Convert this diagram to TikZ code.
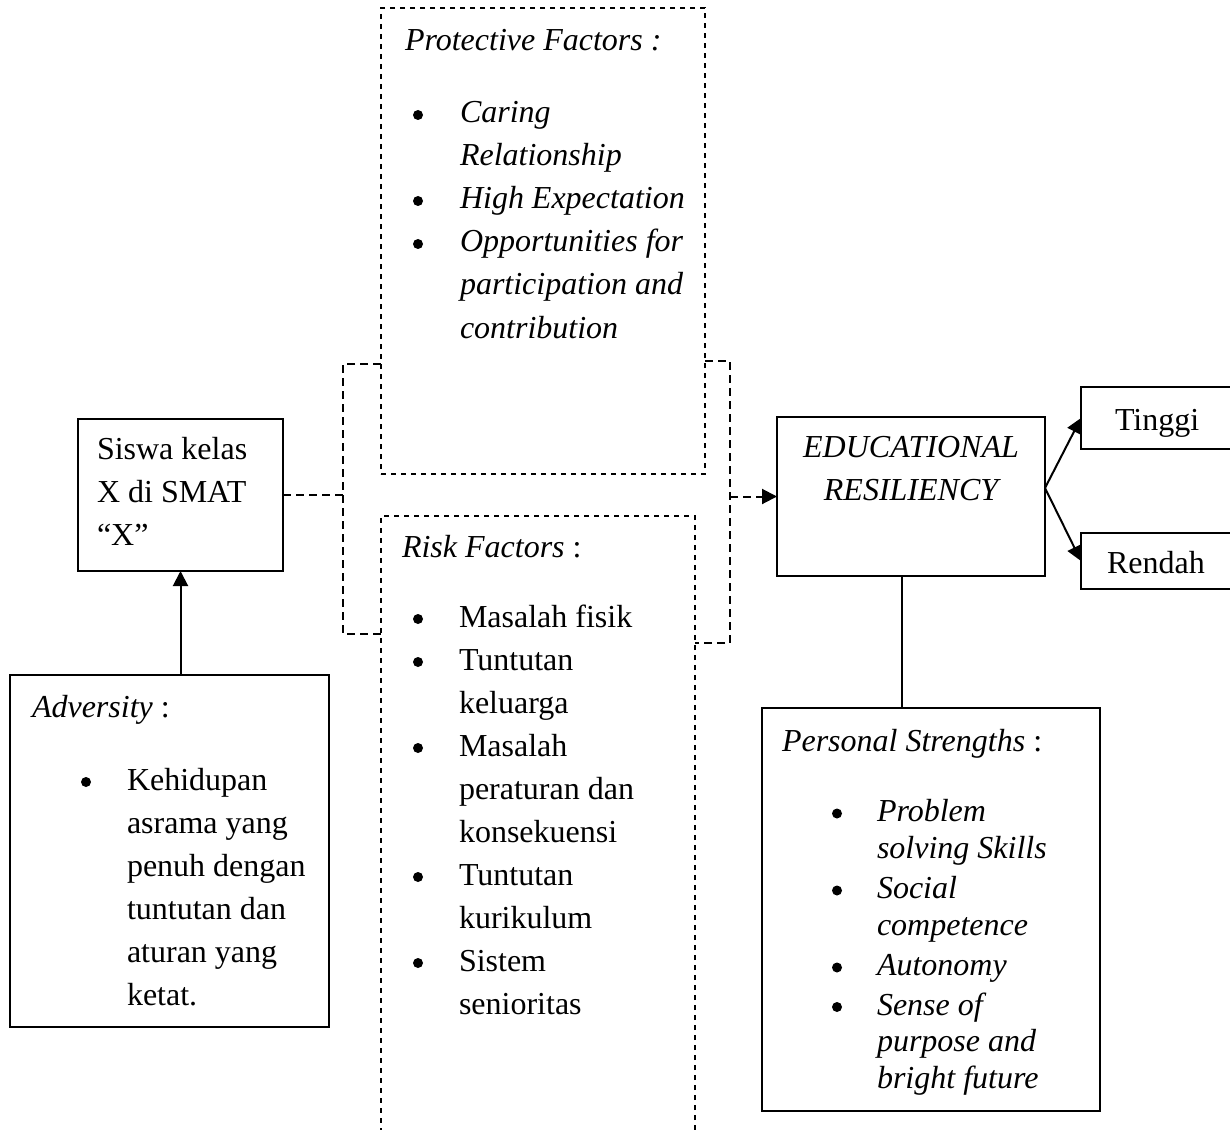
\documentclass[tikz,border=0pt]{standalone}
\usepackage{fontspec}
\setmainfont{Liberation Serif}
\usepackage{array}
\usetikzlibrary{arrows.meta}
\newcommand{\bulx}[2]{\hspace*{#1}\makebox[#2][l]{\tikz[baseline=-8pt]\fill (0,0) circle (5pt);}}
\begin{document}
\begin{tikzpicture}[x=1pt,y=-1pt,
 box/.style={draw, line width=2pt, rectangle, inner sep=0pt, outer sep=0pt, anchor=north west},
 dbox/.style={box, dash pattern=on 5pt off 5pt},
 txt/.style={inner sep=0pt, outer sep=0pt, anchor=base west, font=\fontsize{32}{43}\selectfont},
 dl/.style={line width=2pt, dash pattern=on 8pt off 5pt},
 arr/.style={-{Triangle[length=15pt,width=15pt]}, line width=2pt},
]
\useasboundingbox (0,0) rectangle (1230,1129);
\clip (0,0) rectangle (1230,1129);

% boxes
\node[box, minimum width=205pt, minimum height=152pt] (siswa) at (78,419) {};
\node[dbox, minimum width=324pt, minimum height=466pt] (prot) at (381,8) {};
\node[dbox, minimum width=314pt, minimum height=700pt] (risk) at (381,516) {};
\node[box, minimum width=268pt, minimum height=159pt] (edu) at (777,417) {};
\node[box, minimum width=200pt, minimum height=62pt] (tinggi) at (1081,387) {};
\node[box, minimum width=200pt, minimum height=56pt] (rendah) at (1081,533) {};
\node[box, minimum width=319pt, minimum height=352pt] (adv) at (10,675) {};
\node[box, minimum width=338pt, minimum height=403pt] (ps) at (762,708) {};

% texts
\node[txt] (sisT) at (97,459) {\begin{tabular}[t]{@{}l@{}}Siswa kelas\\X di SMAT\\“X”\end{tabular}};
\node[txt] (protT) at (405,51) {\begin{tabular}[t]{@{}l@{}>{\itshape}l@{}}
\multicolumn{2}{@{}l@{}}{\itshape Protective Factors :}\\[29pt]
\bulx{8pt}{47pt} & Caring\\
 & Relationship\\
\bulx{8pt}{47pt} & High Expectation\\
\bulx{8pt}{47pt} & Opportunities for\\
 & participation and\\
 & contribution
\end{tabular}};
\node[txt] (riskT) at (402,557) {\begin{tabular}[t]{@{}l@{}l@{}}
\multicolumn{2}{@{}l@{}}{\textit{Risk Factors} :}\\[27pt]
\bulx{11pt}{46pt} & Masalah fisik\\
\bulx{11pt}{46pt} & Tuntutan\\
 & keluarga\\
\bulx{11pt}{46pt} & Masalah\\
 & peraturan dan\\
 & konsekuensi\\
\bulx{11pt}{46pt} & Tuntutan\\
 & kurikulum\\
\bulx{11pt}{46pt} & Sistem\\
 & senioritas
\end{tabular}};
\node[txt] (advT) at (32,717) {\begin{tabular}[t]{@{}l@{}l@{}}
\multicolumn{2}{@{}l@{}}{\textit{Adversity} :}\\[30pt]
\bulx{49pt}{46pt} & Kehidupan\\
 & asrama yang\\
 & penuh dengan\\
 & tuntutan dan\\
 & aturan yang\\
 & ketat.
\end{tabular}};
\node[txt, font=\fontsize{32}{36.5}\selectfont] (psT) at (782,751) {\begin{tabular}[t]{@{}l@{}>{\itshape}l@{}}
\multicolumn{2}{@{}l@{}}{\textit{Personal Strengths} :}\\[34pt]
\bulx{50pt}{45pt} & Problem\\
 & solving Skills\\[4pt]
\bulx{50pt}{45pt} & Social\\
 & competence\\[4pt]
\bulx{50pt}{45pt} & Autonomy\\[3pt]
\bulx{50pt}{45pt} & Sense of\\
 & purpose and\\
 & bright future
\end{tabular}};
\node[txt, anchor=base] (eduT) at (911,457) {\begin{tabular}[t]{@{}>{\itshape}c@{}}EDUCATIONAL\\RESILIENCY\end{tabular}};
\node[txt] (tinT) at (1115,430) {Tinggi};
\node[txt] (renT) at (1107,573) {Rendah};

% connectors
\coordinate (lb1) at (343,364);
\coordinate (lb2) at (343,634);
\coordinate (rb1) at (730,361);
\coordinate (rb2) at (730,643);
\draw[dl] (lb1 -| prot.west) -- (lb1) -- (lb2) -- (lb2 -| risk.west);
\draw[dl] (siswa.east) -- (siswa.east -| lb1);
\draw[dl] (rb1 -| prot.east) -- (rb1) -- (rb2) -- (rb2 -| risk.east);
\draw[dl, arr] (edu.west -| rb1) -- (edu.west);
\draw[arr] (adv.north -| siswa.south) -- (siswa.south);
\draw[line width=2pt] ([xshift=-9pt]edu.south) -- ([xshift=-9pt]edu.south |- ps.north);
\coordinate (eduR) at (1045,488);
\draw[arr] (eduR) -- (tinggi.west);
\draw[arr] (eduR) -- (rendah.west);
\end{tikzpicture}
\end{document}
